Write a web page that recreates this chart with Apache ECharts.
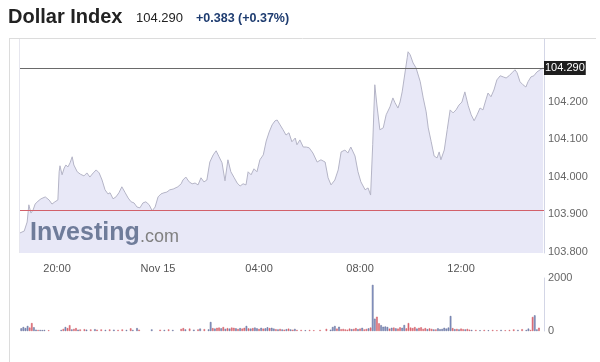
<!DOCTYPE html>
<html><head><meta charset="utf-8">
<script src="https://cdn.jsdelivr.net/npm/echarts@6/dist/echarts.min.js"></script>
<style>html,body{margin:0;padding:0;background:#fff}#c{width:600px;height:362px}</style>
</head><body><div id="c"></div>
<script>
const titleText = 'Dollar Index';
const lastPrice = 104.290;
const priceChange = '+0.383 (+0.37%)';
const prevClose = 103.905;

const lineTimes = ['18:32','18:42','18:49','18:53','18:58','19:03','19:08','19:15','19:22','19:32','19:41','19:48','19:55','20:02','20:05','20:07','20:12','20:17','20:21','20:26','20:31','20:36','20:40','20:48','20:55','20:59','21:04','21:11','21:18','21:26','21:33','21:40','21:47','21:54','22:01','22:06','22:13','22:20','22:27','22:34','22:42','22:49','22:56','23:03','23:10','23:17','23:24','23:31','23:39','23:46','23:53','00:00','00:07','00:14','00:21','00:28','00:36','00:40','00:47','00:55','00:59','01:06','01:14','01:21','01:28','01:35','01:42','01:49','01:56','02:03','02:11','02:18','02:25','02:32','02:39','02:46','02:53','03:01','03:08','03:15','03:22','03:29','03:34','03:41','03:48','03:55','04:02','04:10','04:17','04:24','04:31','04:38','04:43','04:50','04:57','05:04','05:11','05:18','05:26','05:30','05:37','05:45','05:52','05:59','06:08','06:18','06:27','06:37','06:44','06:51','07:00','07:08','07:15','07:24','07:31','07:38','07:48','07:55','08:02','08:12','08:19','08:25','08:30','08:35','08:40','08:47','08:55','09:02','09:11','09:18','09:23','09:30','09:35','09:40','09:47','09:52','09:54','09:59','10:06','10:13','10:23','10:30','10:37','10:42','10:49','10:56','11:03','11:08','11:12','11:20','11:27','11:34','11:41','11:48','11:55','12:02','12:09','12:17','12:24','12:31','12:38','12:45','12:52','12:59','13:04','13:11','13:18','13:25','13:33','13:40','13:47','13:54','14:01','14:08','14:13','14:20','14:27','14:34','14:39','14:46','14:53','15:00','15:08','15:15'];
const lineValues = [103.850,103.855,103.879,103.925,103.903,103.911,103.927,103.935,103.941,103.946,103.938,103.927,103.933,103.938,104.013,104.029,104.005,104.023,104.031,104.026,104.037,104.053,104.031,104.013,104.007,104.010,104.002,104.010,103.999,104.010,104.018,104.010,103.991,103.965,103.954,103.957,103.941,103.946,103.957,103.973,103.957,103.943,103.933,103.930,103.919,103.917,103.930,103.933,103.925,103.909,103.919,103.946,103.954,103.957,103.959,103.965,103.967,103.970,103.973,103.981,103.991,103.999,103.986,103.981,103.983,103.978,103.997,103.986,103.991,104.039,104.058,104.069,104.053,104.037,103.989,104.045,104.013,103.997,103.983,103.975,103.981,103.978,104.013,104.005,104.021,104.013,104.045,104.058,104.095,104.119,104.138,104.149,104.151,104.138,104.125,104.111,104.117,104.093,104.103,104.085,104.098,104.079,104.079,104.077,104.063,104.039,104.045,104.039,103.997,103.978,103.991,104.018,104.066,104.071,104.063,104.079,104.055,104.013,103.986,103.965,103.970,103.951,104.085,104.245,104.191,104.125,104.130,104.165,104.186,104.210,104.197,104.183,104.199,104.226,104.279,104.317,104.333,104.325,104.303,104.290,104.253,104.210,104.173,104.130,104.093,104.055,104.050,104.066,104.045,104.071,104.125,104.178,104.170,104.178,104.191,104.199,104.226,104.189,104.165,104.149,104.165,104.183,104.178,104.205,104.223,104.213,104.231,104.258,104.269,104.266,104.263,104.269,104.277,104.285,104.277,104.253,104.245,104.239,104.253,104.266,104.269,104.279,104.285,104.290];

const volTimes = ['18:35','18:40','18:45','18:50','18:55','19:00','19:05','19:10','19:15','19:20','19:25','19:30','19:40','20:10','20:15','20:20','20:25','20:30','20:35','20:40','20:45','20:50','20:55','21:05','21:10','21:20','21:30','21:35','21:45','21:55','22:05','22:15','22:25','22:35','22:45','22:55','23:00','23:10','23:15','23:45','00:05','00:15','00:25','00:35','00:55','01:00','01:05','01:15','01:25','01:35','01:40','01:50','02:00','02:05','02:10','02:15','02:20','02:25','02:30','02:35','02:40','02:45','02:50','02:55','03:00','03:05','03:10','03:15','03:20','03:25','03:30','03:35','03:40','03:45','03:50','03:55','04:00','04:05','04:10','04:15','04:20','04:25','04:30','04:35','04:40','04:45','04:50','04:55','05:00','05:05','05:10','05:15','05:20','05:25','05:30','05:40','05:50','06:00','06:10','06:25','06:40','06:50','06:55','07:00','07:05','07:10','07:15','07:20','07:25','07:30','07:35','07:40','07:45','07:50','07:55','08:00','08:05','08:10','08:15','08:20','08:25','08:30','08:35','08:40','08:45','08:50','08:55','09:00','09:05','09:10','09:15','09:20','09:25','09:30','09:35','09:40','09:45','09:50','09:55','10:00','10:05','10:10','10:15','10:20','10:25','10:30','10:35','10:40','10:45','10:50','10:55','11:00','11:05','11:10','11:15','11:20','11:25','11:30','11:35','11:40','11:45','11:50','11:55','12:00','12:05','12:10','12:15','12:20','12:25','12:35','12:45','12:55','13:05','13:15','13:25','13:35','13:45','13:55','14:05','14:15','14:25','14:35','14:40','14:45','14:50','14:55','15:00','15:05'];
const volValues = [100,150,110,190,130,300,140,50,40,40,35,40,30,40,80,150,110,220,60,80,110,50,60,70,50,60,70,50,60,40,60,50,40,60,40,100,40,110,50,60,50,40,60,40,80,110,60,90,50,60,90,70,60,340,110,90,120,130,100,150,80,110,90,130,120,100,80,110,90,120,190,100,90,110,130,100,80,120,90,100,140,110,120,90,70,60,80,60,50,70,90,60,50,80,40,40,30,40,30,40,80,50,150,190,90,160,70,80,60,50,90,70,80,110,70,90,120,60,80,100,130,1740,465,540,290,220,160,170,150,90,120,130,100,90,140,120,226,100,300,130,110,150,90,120,140,80,110,70,100,80,60,60,100,70,80,120,90,130,566,110,70,80,60,90,70,60,80,50,40,40,30,40,30,40,30,40,30,40,60,40,70,40,90,40,530,590,60,125];
const volUp = [1,1,1,1,0,0,1,1,0,1,1,1,0,1,0,1,0,0,1,0,0,1,0,0,1,0,1,0,0,1,0,1,0,0,1,0,1,1,0,1,0,1,0,1,0,0,1,0,1,0,1,0,1,1,0,1,0,0,1,0,1,0,1,0,0,1,0,1,0,0,1,0,1,0,1,1,0,1,0,1,1,0,1,1,0,1,0,1,0,1,0,1,0,1,0,0,1,0,0,0,0,1,1,1,0,1,0,0,0,0,0,1,0,0,1,0,1,0,0,1,0,1,1,0,0,1,1,1,1,0,1,0,1,0,0,1,1,0,0,0,0,0,1,0,0,0,0,1,0,0,1,0,1,1,1,1,1,1,1,0,1,0,1,0,0,1,0,0,1,0,1,0,1,0,0,1,0,0,0,1,0,1,1,0,0,1,1,0];

const xTickTimes = ['20:00','00:00','04:00','08:00','12:00'];
const xTickLabels = ['20:00','Nov 15','04:00','08:00','12:00'];
const priceTicks = [103.8, 103.9, 104.0, 104.1, 104.2];
const xStart = '18:32', xEnd = '15:17';

function toMin(s){ const p=s.split(':'); let t=(+p[0])*60+(+p[1])-960; if(t<0) t+=1440; return t; }

const lineData = lineTimes.map((t,i)=>[toMin(t), lineValues[i]]);
const UP_FILL='#8c9ed4', UP_BORDER='#56608a', DN_FILL='#e36b74', DN_BORDER='#cf5a65';
const volData = volTimes.map((t,i)=>({value:[toMin(t), volValues[i]], itemStyle:{color: volUp[i]?UP_FILL:DN_FILL, borderColor: volUp[i]?UP_BORDER:DN_BORDER, borderWidth:0.5}}));
const tickMins = xTickTimes.map(toMin);

const chart = echarts.init(document.getElementById('c'), null, {renderer:'canvas'});
const FONT = 'Liberation Sans, Arial, sans-serif';
chart.setOption({
  animation:false,
  textStyle:{fontFamily:FONT},
  grid:[{left:20,right:56,top:39,height:214},{left:20,right:56,top:278,height:53}],
  xAxis:[
    {type:'value',gridIndex:0,min:toMin(xStart),max:toMin(xEnd),axisLine:{show:false},axisTick:{show:false},splitLine:{show:false},
     axisLabel:{customValues:tickMins,color:'#555',fontSize:11,margin:10,formatter:v=>{const i=tickMins.indexOf(v);return i>=0?xTickLabels[i]:'';}}},
    {type:'value',gridIndex:1,min:toMin(xStart),max:toMin(xEnd),axisLine:{show:false},axisTick:{show:false},splitLine:{show:false},axisLabel:{show:false}}
  ],
  yAxis:[
    {type:'value',gridIndex:0,position:'right',min:103.7965,max:104.367,splitLine:{show:false},axisTick:{show:false},
     axisLine:{show:true,lineStyle:{color:'#d3d6e6'}},
     axisLabel:{customValues:priceTicks,color:'#666',fontSize:11,margin:4,formatter:v=>v.toFixed(3)}},
    {type:'value',gridIndex:1,position:'right',min:0,max:2000,interval:2000,splitLine:{show:false},axisTick:{show:false},
     axisLine:{show:true,lineStyle:{color:'#d3d6e6'}},
     axisLabel:{color:'#666',fontSize:11,margin:4,formatter:v=>String(v)}}
  ],
  series:[
    {type:'line',xAxisIndex:0,yAxisIndex:0,data:lineData,symbol:'none',
     lineStyle:{color:'#b4b4c6',width:1},areaStyle:{color:'#e8e8f7',opacity:1,origin:'start'},
     markLine:{silent:true,symbol:['none','none'],animation:false,
       data:[
         {yAxis:lastPrice,lineStyle:{color:'#6a6a6a',width:1,type:'solid'},
          label:{show:true,position:'end',distance:0,formatter:lastPrice.toFixed(3),color:'#fff',backgroundColor:'#1e1e1e',padding:[2,1,1,1],fontSize:11,fontFamily:FONT}},
         {yAxis:prevClose,lineStyle:{color:'#d2606a',width:1,type:'solid'},label:{show:false}}
       ]}},
    {type:'bar',xAxisIndex:1,yAxisIndex:1,data:volData,barWidth:1.6}
  ],
  graphic:[
    {type:'line',shape:{x1:9,y1:38.5,x2:596,y2:38.5},style:{stroke:'#dcdcdc',lineWidth:1}},
    {type:'line',shape:{x1:9.5,y1:38,x2:9.5,y2:362},style:{stroke:'#dcdcdc',lineWidth:1}},
    {type:'line',shape:{x1:19.5,y1:39,x2:19.5,y2:253},style:{stroke:'#e6e6ee',lineWidth:1}},
    {type:'text',left:8,top:7,style:{text:titleText,font:'bold 20px '+FONT,fill:'#222'}},
    {type:'text',left:136,top:12,style:{text:lastPrice.toFixed(3),font:'13px '+FONT,fill:'#222'}},
    {type:'text',left:196,top:12.5,style:{text:priceChange,font:'bold 12.5px '+FONT,fill:'#1e3c70'}},
    {type:'text',left:30,top:221,z:10,style:{text:'Investing',font:'bold 25px '+FONT,fill:'#6f7c9a'}},
    {type:'text',left:140,top:228,z:10,style:{text:'.com',font:'18px '+FONT,fill:'#808080'}}
  ]
});
</script></body></html>
